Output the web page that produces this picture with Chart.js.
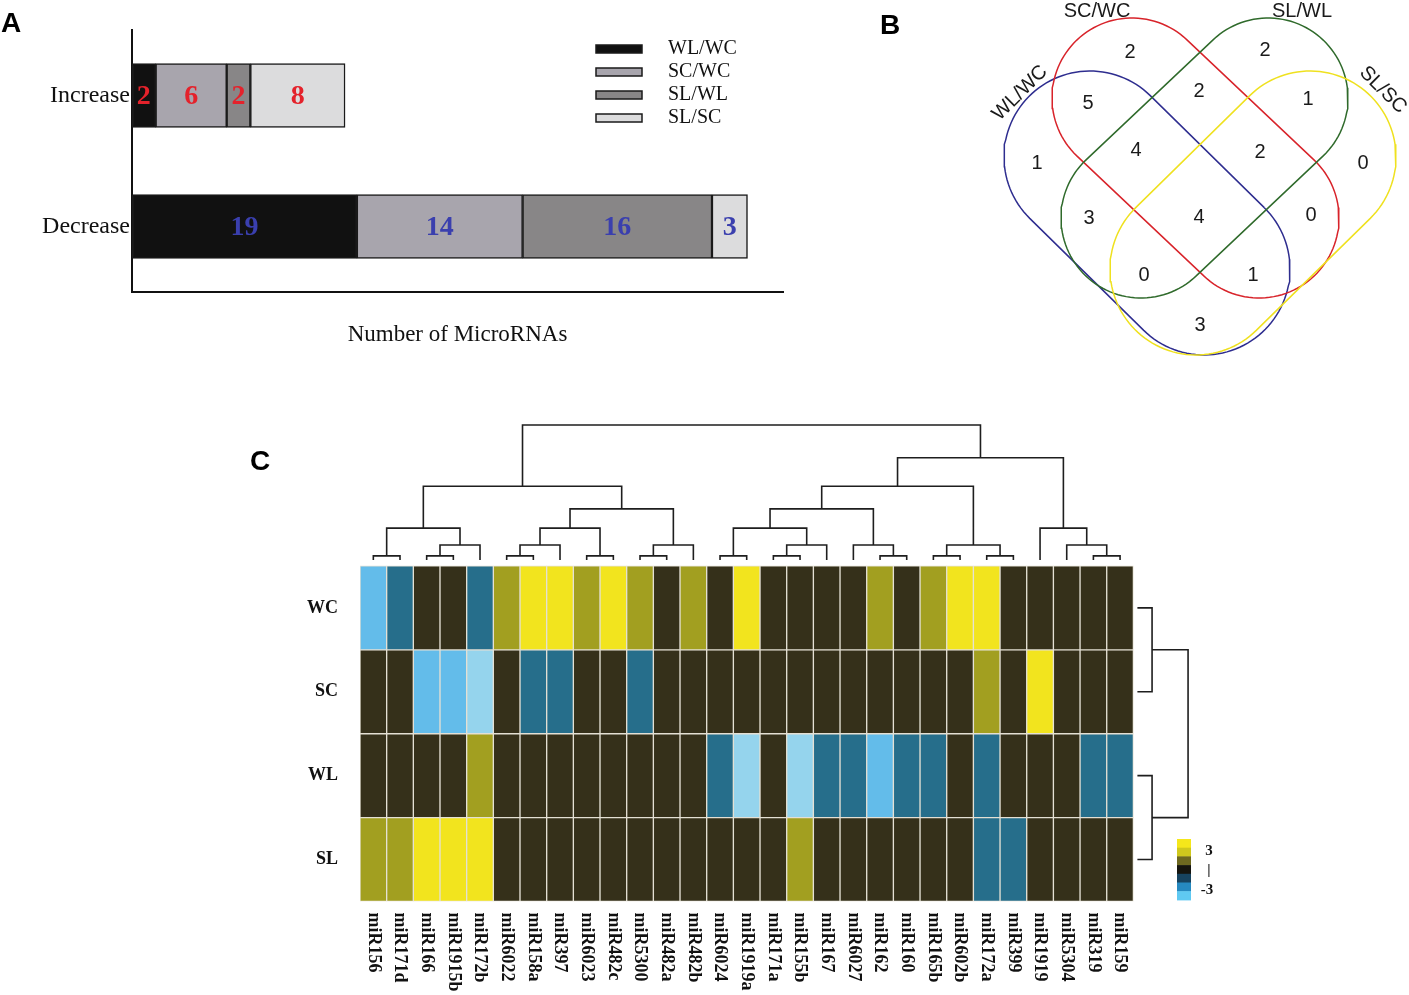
<!DOCTYPE html>
<html>
<head>
<meta charset="utf-8">
<script src="https://cdn.jsdelivr.net/npm/chart.js@4.4.1/dist/chart.umd.min.js"></script>
<style>
  body { margin: 0; background: #fff; width: 1409px; height: 995px; position: relative; overflow: hidden; }
  canvas { position: absolute; }
  .tag { position: absolute; font: bold 28px "Liberation Sans", Arial, sans-serif; color: #000; line-height: 1; }
</style>
</head>
<body>
<canvas id="panelA" width="800" height="370" style="left:0;top:0"></canvas>
<canvas id="panelB" width="539" height="380" style="left:870px;top:0"></canvas>
<canvas id="panelC" width="1040" height="600" style="left:230px;top:395px"></canvas>
<div class="tag" style="left:1px;top:9px">A</div>
<div class="tag" style="left:880px;top:11px">B</div>
<div class="tag" style="left:250px;top:447px">C</div>
<script>
// ---- panel A: up / down regulated miRNA counts
const directions = ['Increase', 'Decrease'];
const comparisons = ['WL/WC', 'SC/WC', 'SL/WL', 'SL/SC'];
const countWLWC = [2, 19];
const countSCWC = [6, 14];
const countSLWL = [2, 16];
const countSLSC = [8, 3];

// ---- panel B: venn region counts (sets in the region)
const vennSets = ['WL/WC', 'SC/WC', 'SL/WL', 'SL/SC'];
const vennRegions = [
  ['SC/WC'], ['SL/WL'], ['WL/WC', 'SC/WC'], ['SC/WC', 'SL/WL'], ['SL/WL', 'SL/SC'],
  ['WL/WC'], ['WL/WC', 'SC/WC', 'SL/WL'], ['SC/WC', 'SL/WL', 'SL/SC'], ['SL/SC'],
  ['WL/WC', 'SL/WL'], ['WL/WC', 'SC/WC', 'SL/WL', 'SL/SC'], ['SC/WC', 'SL/SC'],
  ['WL/WC', 'SL/WL', 'SL/SC'], ['WL/WC', 'SC/WC', 'SL/SC'], ['WL/WC', 'SL/SC']
];
const vennCounts = [2, 2, 5, 2, 1, 1, 4, 2, 0, 3, 4, 0, 0, 1, 3];

// ---- panel C: heatmap
const mirnas = ['miR156', 'miR171d', 'miR166', 'miR1915b', 'miR172b', 'miR6022', 'miR158a', 'miR397',
  'miR6023', 'miR482c', 'miR5300', 'miR482a', 'miR482b', 'miR6024', 'miR1919a', 'miR171a', 'miR155b',
  'miR167', 'miR6027', 'miR162', 'miR160', 'miR165b', 'miR602b', 'miR172a', 'miR399', 'miR1919',
  'miR5304', 'miR319', 'miR159'];
const rowNames = ['WC', 'SC', 'WL', 'SL'];
const exprWC = [-2.5, -1.5, 0, 0, -1.5, 1.5, 3, 3, 1.5, 3, 1.5, 0, 1.5, 0, 3, 0, 0, 0, 0, 1.5, 0, 1.5, 3, 3, 0, 0, 0, 0, 0];
const exprSC = [0, 0, -2.5, -2.5, -3, 0, -1.5, -1.5, 0, 0, -1.5, 0, 0, 0, 0, 0, 0, 0, 0, 0, 0, 0, 0, 1.5, 0, 3, 0, 0, 0];
const exprWL = [0, 0, 0, 0, 1.5, 0, 0, 0, 0, 0, 0, 0, 0, -1.5, -3, 0, -3, -1.5, -1.5, -2.5, -1.5, -1.5, 0, -1.5, 0, 0, 0, -1.5, -1.5];
const exprSL = [1.5, 1.5, 3, 3, 3, 0, 0, 0, 0, 0, 0, 0, 0, 0, 0, 0, 1.5, 0, 0, 0, 0, 0, 0, -1.5, -1.5, 0, 0, 0, 0];

// column clustering: [left, right, height]; numbers = leaf index, 'mN' = earlier merge
const colMerges = [
  [0, 1, 4.12], [2, 3, 4.12], ['m1', 4, 4.25], ['m0', 'm2', 4.45],
  [5, 6, 4.12], ['m4', 7, 4.25], [8, 9, 4.12], ['m5', 'm6', 4.45],
  [10, 11, 4.12], ['m8', 12, 4.25], ['m7', 'm9', 4.68], ['m3', 'm10', 4.95],
  [13, 14, 4.12], [15, 16, 4.12], ['m13', 17, 4.25], ['m12', 'm14', 4.45],
  [19, 20, 4.12], [18, 'm16', 4.25], ['m15', 'm17', 4.68],
  [21, 22, 4.12], [23, 24, 4.12], ['m19', 'm20', 4.25], ['m18', 'm21', 4.95],
  [27, 28, 4.12], [26, 'm23', 4.25], [25, 'm24', 4.45],
  ['m22', 'm25', 5.29], ['m11', 'm26', 5.68]
];
const colLeafHeight = 4.07;
// row clustering (rows 0..3 = WC, SC, WL, SL)
const rowMerges = [[0, 1, 29.2], [2, 3, 29.2], ['m0', 'm1', 30.55]];
const rowLeafDepth = 28.65;

const heatColors = { '3': '#f2e41e', '1.5': '#a29f20', '0': '#35301a', '-1.5': '#266e8b', '-2.5': '#63bcea', '-3': '#95d4ed' };
const colorbarSteps = ['#f5e71b', '#cfc81d', '#6d6820', '#15140e', '#17435f', '#2689c0', '#5fc9f2'];

const serif = '"Liberation Serif", "Times New Roman", serif';
const sans = '"Liberation Sans", Arial, sans-serif';
Chart.defaults.devicePixelRatio = 1;
Chart.defaults.animation = false;

// ================= A =================
const segLabels = {
  id: 'segLabels',
  afterDatasetsDraw(chart) {
    const ctx = chart.ctx;
    chart.data.datasets.forEach((ds, i) => {
      chart.getDatasetMeta(i).data.forEach((bar, j) => {
        const p = bar.getCenterPoint();
        ctx.save();
        ctx.font = 'bold 28px ' + serif;
        ctx.fillStyle = j === 0 ? '#e4222b' : '#3a3fae';
        ctx.textAlign = 'center';
        ctx.textBaseline = 'middle';
        ctx.fillText(ds.data[j], p.x, p.y + 1);
        ctx.restore();
      });
    });
  }
};
const legendA = {
  id: 'legendA',
  afterDraw(chart) {
    const ctx = chart.ctx;
    chart.data.datasets.forEach((ds, i) => {
      const y = 45 + i * 23;
      ctx.save();
      ctx.fillStyle = ds.backgroundColor;
      ctx.fillRect(596, y, 46, 8);
      ctx.strokeStyle = '#1a1a1a';
      ctx.lineWidth = 1.5;
      ctx.strokeRect(596, y, 46, 8);
      ctx.fillStyle = '#111';
      ctx.font = '20px ' + serif;
      ctx.textBaseline = 'middle';
      ctx.fillText(ds.label, 668, y + 4);
      ctx.restore();
    });
  }
};

const segColors = ['#111111', '#a8a5ad', '#888687', '#dcdcdd'];
const segCounts = [countWLWC, countSCWC, countSLWL, countSLSC];
new Chart(document.getElementById('panelA'), {
  type: 'bar',
  data: {
    labels: directions,
    datasets: comparisons.map((c, i) => ({
      label: c,
      data: segCounts[i],
      backgroundColor: segColors[i],
      borderColor: '#1a1a1a',
      borderWidth: 1.5,
      borderSkipped: false,
      barThickness: 64
    }))
  },
  options: {
    indexAxis: 'y',
    responsive: false,
    layout: { padding: { top: 30, right: 17, left: 0, bottom: 0 } },
    plugins: { legend: { display: false }, tooltip: { enabled: false } },
    scales: {
      x: {
        stacked: true, min: 0, max: 55,
        grid: { display: false, drawTicks: false },
        border: { display: true, color: '#111', width: 2 },
        ticks: { display: false },
        title: { display: true, text: 'Number of MicroRNAs', color: '#111', font: { family: serif, size: 23 }, padding: { top: 0, bottom: 21 } },
        afterFit(s) { s.height = 78; }
      },
      y: {
        stacked: true,
        grid: { display: false, drawTicks: false },
        border: { display: true, color: '#111', width: 2 },
        ticks: { color: '#111', padding: 2, font: { family: serif, size: 24 } },
        afterFit(s) { s.width = 132; }
      }
    }
  },
  plugins: [segLabels, legendA]
});

// ================= B =================
// each set drawn as a capsule: two end centres and a radius (screen-like units, y down)
const vennShapes = [
  { c1: [1090, 157], c2: [1204, 269], r: 86, color: '#2e2d8f' },
  { c1: [1132, 98], c2: [1259, 218], r: 80, color: '#d8232a' },
  { c1: [1268, 98], c2: [1141, 218], r: 80, color: '#2f6a2b' },
  { c1: [1310, 157], c2: [1196, 269], r: 86, color: '#efe11f' }
];
const vennLabelPos = [[1130, 52], [1265, 50], [1088, 103], [1199, 91], [1308, 99], [1037, 163], [1136, 150],
  [1260, 152], [1363, 163], [1089, 218], [1199, 217], [1311, 215], [1144, 275], [1253, 275], [1200, 325]];
const vennNamePos = [[1020, 93, -45], [1097, 11, 0], [1302, 11, 0], [1383, 90, 45]];

function outline(s) {
  const pts = [];
  const dir = Math.atan2(s.c2[1] - s.c1[1], s.c2[0] - s.c1[0]);
  const n = 60;
  for (let k = 0; k <= n; k++) {
    const t = dir - Math.PI / 2 + Math.PI * k / n;
    pts.push({ x: s.c2[0] + s.r * Math.cos(t), y: s.c2[1] + s.r * Math.sin(t) });
  }
  for (let k = 0; k <= n; k++) {
    const t = dir + Math.PI / 2 + Math.PI * k / n;
    pts.push({ x: s.c1[0] + s.r * Math.cos(t), y: s.c1[1] + s.r * Math.sin(t) });
  }
  pts.push(pts[0]);
  return pts;
}
const vennText = {
  id: 'vennText',
  afterDraw(chart) {
    const { ctx, scales: { x, y } } = chart;
    ctx.save();
    ctx.fillStyle = '#1a1a1a';
    ctx.textAlign = 'center';
    ctx.textBaseline = 'middle';
    ctx.font = '20px ' + sans;
    vennCounts.forEach((n, i) => {
      ctx.fillText(String(n), x.getPixelForValue(vennLabelPos[i][0]), y.getPixelForValue(vennLabelPos[i][1]));
    });
    vennSets.forEach((name, i) => {
      const [px, py, rot] = vennNamePos[i];
      ctx.save();
      ctx.translate(x.getPixelForValue(px), y.getPixelForValue(py));
      ctx.rotate(rot * Math.PI / 180);
      ctx.fillText(name, 0, 0);
      ctx.restore();
    });
    ctx.restore();
  }
};
new Chart(document.getElementById('panelB'), {
  type: 'scatter',
  data: {
    datasets: vennShapes.map((s, i) => ({
      label: vennSets[i],
      data: outline(s),
      showLine: true,
      borderColor: s.color,
      borderWidth: 1.5,
      pointRadius: 0,
      tension: 0,
      order: 3 - i
    }))
  },
  options: {
    responsive: false,
    layout: { padding: 0 },
    plugins: { legend: { display: false }, tooltip: { enabled: false } },
    scales: {
      x: { type: 'linear', min: 870, max: 1409, display: false },
      y: { type: 'linear', min: 0, max: 380, reverse: true, display: false }
    }
  },
  plugins: [vennText]
});

// ================= C =================
const exprRows = [exprWC, exprSC, exprWL, exprSL];

function colDendro() {
  const pts = [];
  const nodes = [];
  const pos = (r) => typeof r === 'number' ? { x: r, y: colLeafHeight } : nodes[+r.slice(1)];
  colMerges.forEach(([l, r, h]) => {
    const a = pos(l), b = pos(r);
    pts.push({ x: a.x, y: a.y }, { x: a.x, y: h }, { x: b.x, y: h }, { x: b.x, y: b.y }, { x: b.x, y: null });
    nodes.push({ x: (a.x + b.x) / 2, y: h });
  });
  return pts;
}
function rowDendro() {
  const pts = [];
  const nodes = [];
  const pos = (r) => typeof r === 'number' ? { x: rowLeafDepth, y: 3.5 - r } : nodes[+r.slice(1)];
  rowMerges.forEach(([l, r, h]) => {
    const a = pos(l), b = pos(r);
    pts.push({ x: a.x, y: a.y }, { x: h, y: a.y }, { x: h, y: b.y }, { x: b.x, y: b.y }, { x: b.x, y: null });
    nodes.push({ x: h, y: (a.y + b.y) / 2 });
  });
  return pts;
}

const heatDecor = {
  id: 'heatDecor',
  afterDraw(chart) {
    const { ctx, scales: { x }, chartArea } = chart;
    ctx.save();
    ctx.font = 'bold 18px ' + serif;
    ctx.fillStyle = '#111';
    ctx.textAlign = 'left';
    ctx.textBaseline = 'middle';
    mirnas.forEach((name, i) => {
      ctx.save();
      ctx.translate(x.getPixelForValue(i), chartArea.bottom + 11);
      ctx.rotate(Math.PI / 2);
      ctx.fillText(name, 0, 0);
      ctx.restore();
    });
    // colour key
    const kx = 947, ky = 444, kh = 8.7;
    colorbarSteps.forEach((c, i) => {
      ctx.fillStyle = c;
      ctx.fillRect(kx, ky + i * kh, 14, kh + 0.5);
    });
    ctx.fillStyle = '#111';
    ctx.font = 'bold 15px ' + serif;
    ctx.textAlign = 'center';
    ctx.fillText('3', 979, 456);
    ctx.fillText('|', 979, 475);
    ctx.fillText('-3', 977, 495);
    ctx.restore();
  }
};

new Chart(document.getElementById('panelC'), {
  type: 'bar',
  data: {
    datasets: [
      ...exprRows.map((vals, r) => ({
        type: 'bar',
        label: rowNames[r],
        data: vals.map((v, i) => ({ x: i, y: [3 - r, 4 - r] })),
        backgroundColor: vals.map(v => heatColors[String(v)]),
        borderColor: '#e4e0d4',
        borderWidth: 1,
        borderSkipped: false,
        barPercentage: 1,
        categoryPercentage: 1,
        grouped: false,
        order: 2
      })),
      {
        type: 'line', label: 'cols', data: colDendro(), borderColor: '#1e1e1e', borderWidth: 1.6,
        pointRadius: 0, spanGaps: false, tension: 0, clip: false, order: 1
      },
      {
        type: 'line', label: 'rows', data: rowDendro(), borderColor: '#1e1e1e', borderWidth: 1.6,
        pointRadius: 0, spanGaps: false, tension: 0, clip: false, order: 1
      }
    ]
  },
  options: {
    responsive: false,
    layout: { padding: { top: 28.3, right: 80.6, left: 0, bottom: 0 } },
    plugins: { legend: { display: false }, tooltip: { enabled: false } },
    scales: {
      x: {
        type: 'linear', min: -0.5, max: 30.6, offset: false,
        grid: { display: false, drawTicks: false },
        border: { display: false },
        ticks: { display: false },
        afterBuildTicks(s) { s.ticks = mirnas.map((m, i) => ({ value: i })); },
        afterFit(s) { s.height = 93.5; }
      },
      y: {
        type: 'linear', min: 0, max: 5.7,
        grid: { display: false, drawTicks: false },
        border: { display: false },
        ticks: {
          color: '#111', padding: 22, font: { family: serif, size: 18, weight: 'bold' },
          callback: (v) => rowNames[3 - Math.floor(v)]
        },
        afterBuildTicks(s) { s.ticks = rowNames.map((n, r) => ({ value: 3.5 - r })); },
        afterFit(s) { s.width = 130; s.paddingTop = 0; s.paddingBottom = 0; }
      }
    }
  },
  plugins: [heatDecor]
});
</script>
</body>
</html>
